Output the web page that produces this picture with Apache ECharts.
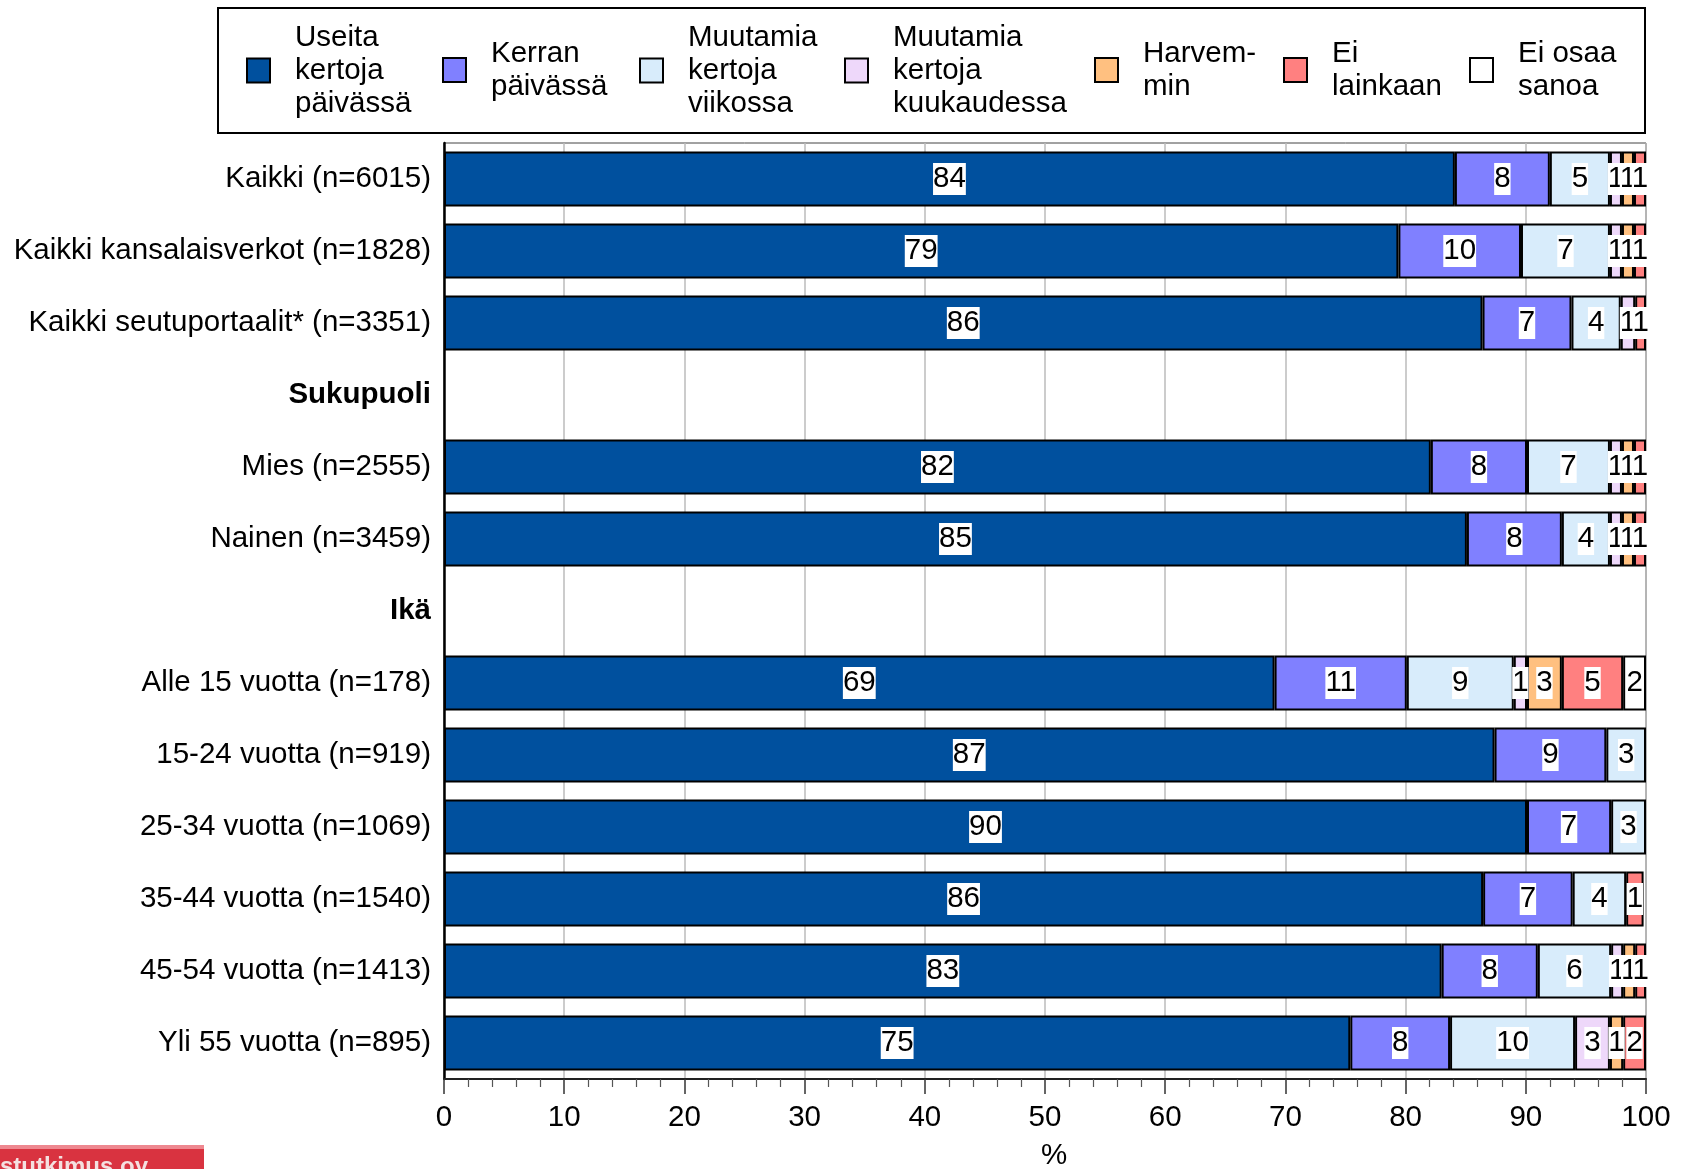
<!DOCTYPE html>
<html>
<head>
<meta charset="utf-8">
<script src="https://cdn.jsdelivr.net/npm/echarts@6/dist/echarts.min.js"></script>
<style>
html,body{margin:0;padding:0;background:#fff;}
#chart{width:1683px;height:1169px;}
</style>
</head>
<body>
<div id="chart"></div>
<script>
// Categories (top to bottom); header rows have no data
const categories = [
  'Kaikki (n=6015)',
  'Kaikki kansalaisverkot (n=1828)',
  'Kaikki seutuportaalit* (n=3351)',
  'Sukupuoli',
  'Mies (n=2555)',
  'Nainen (n=3459)',
  'Ikä',
  'Alle 15 vuotta (n=178)',
  '15-24 vuotta (n=919)',
  '25-34 vuotta (n=1069)',
  '35-44 vuotta (n=1540)',
  '45-54 vuotta (n=1413)',
  'Yli 55 vuotta (n=895)'
];
const headerRows = ['Sukupuoli', 'Ikä'];

const seriesNames = [
  'Useita kertoja päivässä',
  'Kerran päivässä',
  'Muutamia kertoja viikossa',
  'Muutamia kertoja kuukaudessa',
  'Harvemmin',
  'Ei lainkaan',
  'Ei osaa sanoa'
];
const legendLabels = [
  'Useita\nkertoja\npäivässä',
  'Kerran\npäivässä',
  'Muutamia\nkertoja\nviikossa',
  'Muutamia\nkertoja\nkuukaudessa',
  'Harvem-\nmin',
  'Ei\nlainkaan',
  'Ei osaa\nsanoa'
];

// Values (%), null for header rows
const useita     = [84.1, 79.4, 86.4, null, 82.1, 85.1, null, 69.1, 87.4, 90.1, 86.45, 83.0, 75.4];
const kerran     = [7.9, 10.2, 7.4, null, 8.0, 7.9, null, 11.0, 9.3, 7.0, 7.45, 8.0, 8.3];
const viikossa   = [5.0, 7.4, 4.1, null, 6.9, 4.0, null, 8.9, 3.3, 2.9, 4.45, 6.1, 10.4];
const kuukaudessa= [1.0, 1.0, 1.2, null, 1.0, 1.0, null, 1.1, 0, 0, 0, 1.0, 2.9];
const harvemmin  = [1.0, 1.0, 0, null, 1.0, 1.0, null, 2.9, 0, 0, 0, 1.0, 1.1];
const eiLainkaan = [1.0, 1.0, 0.9, null, 1.0, 1.0, null, 5.1, 0, 0, 1.45, 0.9, 1.9];
const eiOsaa     = [0, 0, 0, null, 0, 0, null, 1.9, 0, 0, 0, 0, 0];

const xTicks = [0, 10, 20, 30, 40, 50, 60, 70, 80, 90, 100];
const xAxisTitle = '%';

const seriesValues = [useita, kerran, viikossa, kuukaudessa, harvemmin, eiLainkaan, eiOsaa];
const colors = ['#00509E', '#8080FF', '#D8ECFB', '#EED8FA', '#FFC080', '#FF8080', '#FFFFFF'];

const FONT = '"Liberation Sans", Arial, sans-serif';
const FS = 29.5;

// Legend positions (icon left edge)
const legendLeft = [246, 442, 639, 844, 1094, 1283, 1469];

const chart = echarts.init(document.getElementById('chart'), null, {renderer: 'canvas'});

const legends = seriesNames.map((n, i) => {
  const lines = legendLabels[i].split('\n').length;
  const h = lines * 33;
  return {
    data: [n],
    left: legendLeft[i],
    top: Math.round(70 - h / 2),
    padding: 0,
    orient: 'horizontal',
    selectedMode: false,
    icon: 'rect',
    itemWidth: 23,
    itemHeight: 24,
    itemStyle: {borderColor: '#000', borderWidth: 2},
    formatter: () => legendLabels[i],
    textStyle: {fontSize: FS, lineHeight: 33, color: '#000', fontFamily: FONT, padding: [0, 0, 0, 20]}
  };
});

const series = seriesNames.map((n, i) => ({
  name: n,
  type: 'bar',
  stack: 'total',
  barWidth: 55,
  data: seriesValues[i].map(v => (v === null || v === 0) ? '-' : v),
  itemStyle: {color: colors[i], borderColor: '#000', borderWidth: 2},
  label: {
    show: true,
    position: 'inside',
    formatter: p => {
      const r = Math.round(p.value);
      return r >= 1 ? String(r) : '';
    },
    color: '#000',
    fontSize: FS,
    fontFamily: FONT,
    backgroundColor: '#fff',
    padding: [1, 0, 0, 0],
    lineHeight: 31
  },
  emphasis: {disabled: true}
}));

const option = {
  backgroundColor: '#fff',
  animation: false,
  legend: legends,
  grid: {left: 444, right: 37, top: 143, bottom: 90, containLabel: false, outerBoundsMode: 'none',
         show: true, borderColor: '#444', borderWidth: 1},
  xAxis: {
    type: 'value',
    min: 0, max: 100, interval: 10,
    axisLine: {show: true, lineStyle: {color: '#222', width: 2}},
    axisTick: {show: true, length: 15, lineStyle: {color: '#333', width: 1.5}},
    minorTick: {show: true, splitNumber: 5, length: 8, lineStyle: {color: '#555', width: 1.2}},
    axisLabel: {
      fontSize: FS, color: '#000', fontFamily: FONT, margin: 24,
      formatter: v => xTicks.includes(v) ? String(v) : ''
    },
    splitLine: {show: true, lineStyle: {color: '#BBBBBB', width: 1.5}}
  },
  yAxis: {
    type: 'category',
    inverse: true,
    data: categories,
    axisLine: {show: true, lineStyle: {color: '#000', width: 2.5}},
    axisTick: {show: false},
    axisLabel: {
      fontSize: FS, color: '#000', fontFamily: FONT, margin: 13,
      formatter: v => headerRows.includes(v) ? '{b|' + v + '}' : v,
      rich: {b: {fontSize: FS, fontWeight: 'bold', color: '#000', fontFamily: FONT}}
    }
  },
  series: series,
  graphic: [
    {type: 'rect', shape: {x: 218, y: 8, width: 1427, height: 125}, style: {fill: 'none', stroke: '#000', lineWidth: 2}, z: 100},
    {type: 'text', x: 1054, y: 1156, style: {text: xAxisTitle, fill: '#000', font: FS + 'px ' + FONT, align: 'center', verticalAlign: 'middle'}, z: 100},
    {type: 'rect', shape: {x: 0, y: 1145, width: 204, height: 24}, style: {fill: '#D93340'}, z: 100},
    {type: 'rect', shape: {x: 0, y: 1145, width: 204, height: 4}, style: {fill: '#EE8890'}, z: 101},
    {type: 'text', left: 0, top: 1155, style: {text: 'stutkimus oy', fill: '#F4E0E0', font: 'bold 24px ' + FONT}, z: 102}
  ]
};
chart.setOption(option);
</script>
</body>
</html>
